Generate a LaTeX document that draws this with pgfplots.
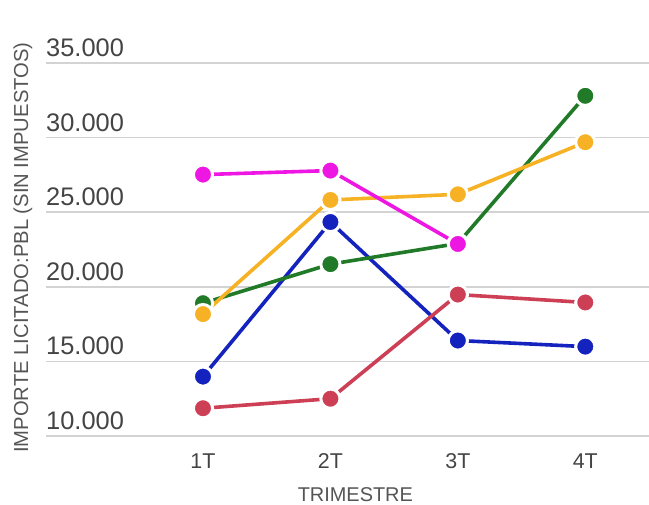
\documentclass[border=0pt]{standalone}
\usepackage{fontspec}
\setmainfont{Liberation Sans}
\usepackage{pgfplots}
\usepackage{pgfplotstable}
\pgfplotsset{compat=1.18}
\definecolor{cblue}{RGB}{20,35,190}
\definecolor{cred}{RGB}{204,63,85}
\definecolor{cgreen}{RGB}{32,122,40}
\definecolor{corange}{RGB}{246,178,36}
\definecolor{cpink}{RGB}{238,22,226}
\definecolor{gridc}{RGB}{211,211,211}
\definecolor{txt}{RGB}{68,68,68}
\definecolor{lbl}{RGB}{85,85,85}

% importe por trimestre (0=1T ... 3=4T)
\pgfplotstableread{
x  b     r     g     o     p
0  13980 11860 18900 18170 27520
1  24340 12500 21520 25820 27790
2  16400 19480 22900 26200 22870
3  15990 18950 32800 29690 nan
}\datos

\begin{document}
\begin{tikzpicture}
\useasboundingbox (0,0) rectangle (649bp,505bp);
\begin{axis}[
    at={(46bp,69bp)}, anchor=south west,
    scale only axis,
    width=603bp, height=373bp,
    xmin=-1.232, xmax=3.5,
    ymin=10000, ymax=35000,
    ytick={10000,15000,...,35000},
    scaled y ticks=false,
    xtick={0,1,2,3},
    xticklabels={1T,2T,3T,4T},
    axis line style={draw=none},
    ymajorgrids,
    major grid style={gridc, line width=1.6bp},
    tick style={draw=none},
    /pgf/number format/.cd, fixed, 1000 sep={.}, assume math mode=true,
    /pgfplots/.cd,
    yticklabel style={anchor=south west, inner sep=0pt, yshift=6bp,
        font=\fontsize{25.5}{30}\selectfont, text=txt},
    xticklabel style={anchor=base, inner sep=0pt, yshift=-32bp,
        font=\fontsize{21.5}{25}\selectfont, text=txt},
    xlabel={TRIMESTRE},
    xlabel style={at={(axis description cs:0.513,0)}, anchor=base,
        yshift=-65bp, inner sep=0pt, font=\fontsize{20}{24}\selectfont, text=lbl},
    ylabel={IMPORTE LICITADO:PBL (SIN IMPUESTOS)},
    ylabel style={at={(axis description cs:-0.02985,0.505)}, anchor=base,
        inner sep=0pt, font=\fontsize{20.3}{24}\selectfont, text=lbl},
    clip=false,
]
% lineas
\pgfplotsset{ln/.style={#1, no markers, line width=3.6bp}}
\addplot[ln=cblue] table[x=x,y=b] {\datos};
\addplot[ln=cred] table[x=x,y=r] {\datos};
\addplot[ln=cgreen] table[x=x,y=g] {\datos};
\addplot[ln=corange] table[x=x,y=o] {\datos};
\addplot[ln=cpink] table[x=x,y=p] {\datos};
% puntos
\pgfplotsset{dots/.style={only marks, mark=*, mark size=9.6bp,
    mark options={draw=white, line width=3bp, fill=#1}}}
\addplot[dots=cblue] table[x=x,y=b] {\datos};
\addplot[dots=cred] table[x=x,y=r] {\datos};
\addplot[dots=cgreen] table[x=x,y=g] {\datos};
\addplot[dots=corange] table[x=x,y=o] {\datos};
\addplot[dots=cpink] table[x=x,y=p] {\datos};
\end{axis}
\end{tikzpicture}
\end{document}
